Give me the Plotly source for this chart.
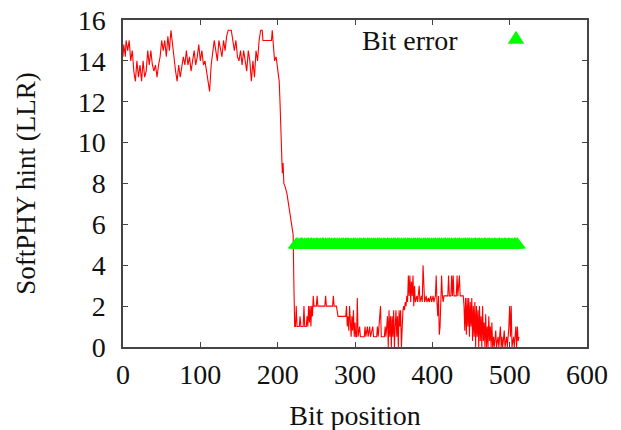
import plotly.graph_objects as go

# SoftPHY hint per bit position (sampled readings from the chart)
bit_pos = [
    0, 1, 3, 4, 6, 8, 10, 12, 14, 16, 18, 20, 22, 24, 26, 28, 30, 32, 34, 36, 38, 40,
    42, 44, 46, 48, 50, 52, 54, 56, 58, 60, 62, 64, 66, 68, 70, 72, 74, 76, 78, 80,
    82, 84, 86, 88, 90, 92, 94, 96, 98, 100, 102, 104, 106, 108, 110, 112, 114, 116,
    118, 120, 122, 124, 126, 128, 130, 132, 134, 136, 138, 140, 142, 144, 146, 148,
    150, 152, 154, 156, 158, 160, 162, 164, 166, 168, 170, 172, 174, 176, 178, 180,
    181, 186, 192, 193, 194, 196, 198, 200, 202, 203, 204, 205, 206, 207, 208, 210,
    212, 214, 216, 218, 220, 221, 222,
    223, 224, 225, 228, 229, 230, 233, 234, 235, 237, 238, 239, 240, 241, 242, 243,
    244, 245, 246, 247, 250, 251, 252, 261, 262, 263, 271, 272, 273, 276, 278, 288,
    289, 290, 291, 292, 293, 294, 295, 296, 297, 298, 299, 300, 301, 302, 303, 304,
    306, 307, 312, 313, 314, 316, 317, 319, 320, 323, 324, 328, 329, 330, 333, 334,
    338, 339, 340, 342, 343, 344, 345, 346, 347, 348, 349, 350, 351, 352, 353, 354,
    355, 356, 357, 358, 359, 360, 361, 362, 363, 364, 365, 366, 367, 368, 369, 370,
    371, 372, 373, 374, 375, 376, 377, 378, 380, 381, 383, 384, 386, 387, 388, 389,
    390, 392, 393, 395, 396, 398, 399, 401, 402, 404, 405, 406, 407, 408, 409, 410,
    411, 412, 413, 414, 415, 417, 420, 421, 422, 424, 425, 426, 427, 428, 431, 432,
    433, 435, 436, 438, 440, 441, 442, 443, 444, 445, 446, 447, 448, 449, 450, 451,
    452, 453, 454, 455, 456, 457, 458, 459, 460, 461, 462, 463, 464, 465, 466, 467,
    468, 469, 470, 471, 472, 473, 474, 475, 476, 477, 478, 479, 480, 482, 483, 485,
    486, 488, 489, 490, 491, 493, 494, 496, 497, 499, 500, 501, 502, 503, 505, 506,
    508, 509, 510, 511, 512,
]
soft_hint = [
    14.2, 14.8, 14.2, 15.0, 14.5, 15.0, 14.0, 14.5, 13.5, 13.0, 14.0, 13.2, 13.8, 13.0,
    14.0, 13.2, 13.5, 14.5, 13.8, 14.5, 13.8, 13.5, 13.8, 13.2, 13.8, 14.2, 15.0, 14.5,
    15.0, 14.2, 15.2, 14.5, 15.5, 14.8, 14.0, 13.5, 13.0, 13.8, 13.2, 13.8, 14.2, 13.8,
    14.5, 13.8, 14.2, 13.5, 14.0, 14.5, 13.8, 14.2, 14.8, 14.0, 14.5, 13.8, 14.0, 13.5,
    13.0, 12.5, 13.8, 14.5, 15.0, 14.5, 14.0, 15.0, 14.5, 14.2, 15.0, 14.5, 15.2, 15.5,
    15.5, 15.5, 15.0, 14.5, 15.0, 14.2, 14.0, 14.5, 13.8, 14.5, 14.0, 13.5, 14.5, 14.0,
    13.0, 14.0, 13.2, 14.5, 14.0, 15.0, 15.5, 15.5, 15.0, 15.0, 15.0, 15.5, 15.0, 14.0,
    14.2, 13.5, 13.0, 12.0, 11.0, 10.0, 8.5, 9.0, 8.0, 7.8, 7.5, 7.0, 6.5, 6.2, 5.5,
    3.0, 1.0,
    1.0, 2.0, 1.0, 1.0, 1.5, 1.0, 1.0, 2.0, 1.0, 1.0, 1.5, 1.0, 2.0, 1.2, 2.0, 1.0,
    2.0, 1.5, 2.5, 2.0, 2.0, 2.5, 2.0, 2.0, 2.5, 2.0, 2.0, 2.5, 2.0, 2.0, 1.5, 1.5,
    2.0, 1.0, 1.5, 0.8, 2.0, 1.0, 0.5, 1.5, 0.8, 1.8, 0.5, 1.2, 0.5, 0.5, 2.4, 0.5,
    1.0, 0.5, 0.5, 1.0, 0.5, 1.0, 0.5, 1.0, 0.5, 1.0, 0.5, 0.5, 1.0, 0.5, 2.0, 0.5,
    0.5, 1.0, 0.5, 1.5, 0.0, 1.8, 0.5, 1.5, 0.0, 1.5, 0.5, 1.8, 0.0, 1.0, 1.8, 0.5,
    1.5, 0.0, 1.8, 1.0, 1.8, 0.0, 1.5, 1.8, 2.0, 1.8, 2.2, 2.0, 2.5, 2.2, 3.5, 2.5,
    3.5, 2.2, 3.2, 2.5, 3.5, 2.0, 3.0, 2.2, 2.5, 2.2, 3.0, 2.2, 2.5, 2.2, 4.0, 2.4,
    2.2, 2.5, 2.2, 2.4, 2.2, 2.5, 2.2, 2.5, 2.2, 2.5, 3.5, 2.2, 1.5, 2.5, 0.6, 1.0,
    2.0, 3.5, 2.5, 2.2, 2.5, 2.5, 2.5, 3.5, 2.5, 2.5, 3.5, 2.5, 3.5, 2.5, 2.5, 3.5,
    2.5, 3.5, 2.5, 2.5, 2.5, 2.0, 0.8, 2.4, 0.6, 2.4, 1.0, 2.4, 0.5, 2.2, 1.0, 2.4,
    0.3, 2.0, 0.5, 2.2, 0.0, 2.0, 0.5, 1.8, 0.0, 2.0, 0.3, 1.5, 0.0, 2.0, 0.3, 1.2,
    0.0, 1.6, 0.0, 1.0, 0.0, 1.5, 0.3, 1.0, 0.0, 1.2, 0.0, 0.5, 0.0, 0.8, 0.0, 0.5,
    0.0, 1.0, 0.0, 0.5, 0.0, 0.8, 0.0, 0.5, 0.0, 1.0, 2.0, 0.5, 2.0, 0.0, 0.5, 0.0,
    1.0, 0.0, 1.0, 0.3, 0.5,
]

# Bit error positions (marked at a fixed level)
error_pos = [
    224, 226, 229, 231, 232, 235, 238, 240, 243, 244, 247, 250, 252, 255, 258, 259,
    262, 265, 267, 270, 273, 274, 277, 280, 283, 285, 288, 290, 292, 295, 298, 300,
    303, 306, 308, 311, 313, 316, 318, 321, 324, 326, 329, 331, 334, 337, 339, 342,
    344, 347, 350, 352, 355, 357, 360, 363, 365, 368, 370, 373, 376, 378, 381, 383,
    386, 389, 391, 394, 396, 399, 402, 404, 407, 409, 412, 415, 417, 420, 422, 425,
    428, 430, 433, 435, 438, 441, 443, 446, 448, 451, 454, 456, 459, 461, 464, 467,
    469, 472, 474, 477, 480, 482, 485, 487, 490, 493, 495, 498, 500, 503, 506, 508, 510,
]
error_level = [5] * len(error_pos)

x_ticks = [0, 100, 200, 300, 400, 500, 600]
y_ticks = [0, 2, 4, 6, 8, 10, 12, 14, 16]

FONT = "Liberation Serif"
AX = "#444444"
TXT = "#111111"

fig = go.Figure()
fig.add_trace(go.Scatter(
    x=bit_pos, y=soft_hint, mode="lines",
    line=dict(color="#ff0000", width=1.1), showlegend=False,
))
fig.add_trace(go.Scatter(
    x=error_pos, y=error_level, mode="markers",
    marker=dict(symbol="triangle-up", size=15, color="#00ff00", line=dict(width=0)),
    showlegend=False, cliponaxis=False,
))

axis_common = dict(
    showgrid=False, zeroline=False, showline=True, linecolor=AX, linewidth=1.5,
    mirror="ticks", ticks="inside", ticklen=5, tickcolor=AX, tickwidth=1,
    tickfont=dict(family=FONT, size=28, color=TXT), automargin=False,
    ticklabeloverflow="allow",
)
fig.update_xaxes(range=[0, 600], tickvals=x_ticks, ticktext=[str(v) for v in x_ticks],
                 ticklabelstandoff=2,
                 title=dict(text="Bit position", font=dict(family=FONT, size=28, color=TXT), standoff=16),
                 **axis_common)
fig.update_yaxes(range=[0, 16], tickvals=y_ticks, ticktext=[str(v) for v in y_ticks],
                 ticklabelstandoff=10,
                 title=dict(text="SoftPHY hint (LLR)", font=dict(family=FONT, size=27, color=TXT), standoff=34),
                 **axis_common)

# legend key (gnuplot style: label, then sample)
fig.add_annotation(xref="paper", yref="paper", x=0.726, y=0.936, text="Bit error",
                   showarrow=False, xanchor="right", yanchor="middle",
                   font=dict(family=FONT, size=28, color=TXT))
fig.add_shape(type="path", xref="paper", yref="paper",
              path="M 0.829,0.927 L 0.865,0.927 L 0.847,0.967 Z",
              fillcolor="#00ff00", line=dict(width=0))

fig.update_layout(
    width=621, height=430,
    margin=dict(l=115, r=42, t=12, b=91),
    paper_bgcolor="white", plot_bgcolor="white",
    font=dict(family=FONT),
)
fig.write_html("out.html")
